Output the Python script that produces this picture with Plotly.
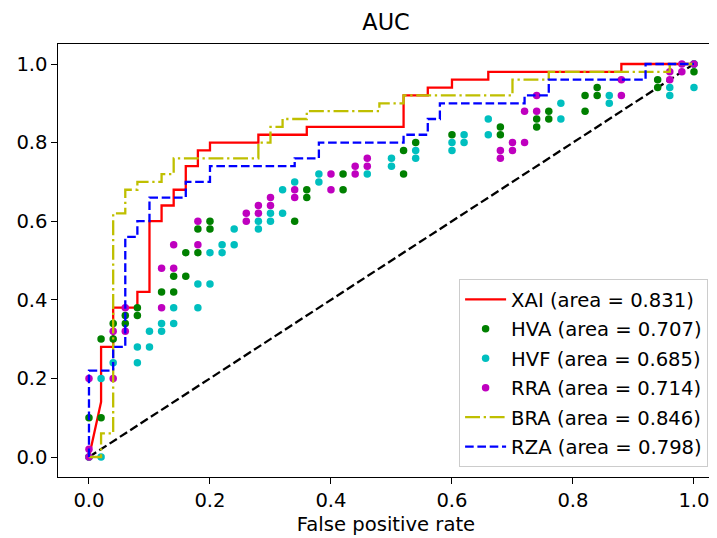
import plotly.graph_objects as go

# ROC curves (step lines)
xai_fpr = [0, 0.02, 0.02, 0.04, 0.04, 0.08, 0.08, 0.10, 0.10, 0.12, 0.12, 0.14, 0.14, 0.16, 0.16, 0.18, 0.18, 0.20, 0.20, 0.28, 0.28, 0.36, 0.36, 0.52, 0.52, 0.56, 0.56, 0.60, 0.60, 0.66, 0.66, 0.88, 0.88, 1.0]
xai_tpr = [0, 0.14, 0.28, 0.28, 0.38, 0.38, 0.42, 0.42, 0.60, 0.60, 0.64, 0.64, 0.68, 0.68, 0.74, 0.74, 0.78, 0.78, 0.80, 0.80, 0.82, 0.82, 0.84, 0.84, 0.92, 0.92, 0.94, 0.94, 0.96, 0.96, 0.98, 0.98, 1.0, 1.0]

bra_fpr = [0, 0.02, 0.02, 0.04, 0.04, 0.06, 0.06, 0.08, 0.08, 0.12, 0.12, 0.14, 0.14, 0.28, 0.28, 0.30, 0.30, 0.32, 0.32, 0.36, 0.36, 0.48, 0.48, 0.52, 0.52, 0.70, 0.70, 0.76, 0.76, 0.96, 0.96, 1.0]
bra_tpr = [0, 0, 0.06, 0.06, 0.62, 0.62, 0.68, 0.68, 0.70, 0.70, 0.72, 0.72, 0.76, 0.76, 0.80, 0.80, 0.84, 0.84, 0.86, 0.86, 0.88, 0.88, 0.90, 0.90, 0.92, 0.92, 0.96, 0.96, 0.98, 0.98, 1.0, 1.0]

rza_fpr = [0, 0, 0.04, 0.04, 0.06, 0.06, 0.08, 0.08, 0.10, 0.10, 0.16, 0.16, 0.20, 0.20, 0.34, 0.34, 0.38, 0.38, 0.52, 0.52, 0.56, 0.56, 0.58, 0.58, 0.72, 0.72, 0.76, 0.76, 0.92, 0.92, 1.0]
rza_tpr = [0, 0.22, 0.22, 0.28, 0.28, 0.56, 0.56, 0.60, 0.60, 0.66, 0.66, 0.70, 0.70, 0.74, 0.74, 0.76, 0.76, 0.80, 0.80, 0.82, 0.82, 0.86, 0.86, 0.90, 0.90, 0.92, 0.92, 0.96, 0.96, 1.0, 1.0]

# ROC points (markers only)
hva_fpr = [0, 0, 0.02, 0.02, 0.04, 0.04, 0.06, 0.06, 0.08, 0.08, 0.12, 0.14, 0.14, 0.16, 0.16, 0.18, 0.18, 0.20, 0.20, 0.34, 0.36, 0.36, 0.42, 0.42, 0.52, 0.52, 0.54, 0.60, 0.68, 0.68, 0.74, 0.74, 0.76, 0.76, 0.82, 0.82, 0.84, 0.84, 0.94, 0.94, 1.0, 1.0]
hva_tpr = [0, 0.10, 0.10, 0.30, 0.30, 0.34, 0.34, 0.36, 0.36, 0.38, 0.42, 0.42, 0.46, 0.46, 0.52, 0.52, 0.58, 0.58, 0.60, 0.60, 0.66, 0.68, 0.68, 0.72, 0.72, 0.78, 0.80, 0.82, 0.82, 0.84, 0.84, 0.86, 0.86, 0.88, 0.88, 0.92, 0.92, 0.94, 0.94, 0.96, 0.98, 1.0]

hvf_fpr = [0, 0.02, 0.02, 0.04, 0.08, 0.08, 0.10, 0.10, 0.12, 0.12, 0.14, 0.14, 0.18, 0.18, 0.20, 0.20, 0.22, 0.22, 0.24, 0.24, 0.28, 0.28, 0.30, 0.30, 0.32, 0.32, 0.34, 0.38, 0.38, 0.46, 0.50, 0.50, 0.54, 0.54, 0.60, 0.60, 0.62, 0.62, 0.66, 0.66, 0.78, 0.78, 0.86, 0.86, 0.96, 0.96, 1.0, 1.0]
hvf_tpr = [0, 0, 0.20, 0.24, 0.24, 0.28, 0.28, 0.32, 0.32, 0.34, 0.34, 0.38, 0.38, 0.44, 0.44, 0.52, 0.52, 0.54, 0.54, 0.58, 0.58, 0.60, 0.60, 0.62, 0.62, 0.68, 0.70, 0.70, 0.72, 0.72, 0.74, 0.76, 0.76, 0.78, 0.78, 0.80, 0.80, 0.82, 0.82, 0.86, 0.86, 0.90, 0.90, 0.92, 0.92, 0.94, 0.94, 1.0]

rra_fpr = [0, 0, 0, 0.04, 0.04, 0.06, 0.06, 0.12, 0.12, 0.14, 0.14, 0.18, 0.18, 0.26, 0.26, 0.28, 0.28, 0.30, 0.30, 0.34, 0.34, 0.40, 0.40, 0.44, 0.44, 0.46, 0.46, 0.68, 0.68, 0.70, 0.70, 0.72, 0.72, 0.74, 0.74, 0.88, 0.88, 0.96, 0.96, 0.98, 0.98, 1.0]
rra_tpr = [0, 0.02, 0.20, 0.20, 0.32, 0.32, 0.38, 0.38, 0.48, 0.48, 0.54, 0.54, 0.60, 0.60, 0.62, 0.62, 0.64, 0.64, 0.66, 0.66, 0.68, 0.68, 0.72, 0.72, 0.74, 0.74, 0.76, 0.76, 0.78, 0.78, 0.80, 0.80, 0.88, 0.88, 0.92, 0.92, 0.96, 0.96, 0.98, 0.98, 1.0, 1.0]

diag = [0, 1]

labels = ["XAI (area = 0.831)", "HVA (area = 0.707)", "HVF (area = 0.685)",
          "RRA (area = 0.714)", "BRA (area = 0.846)", "RZA (area = 0.798)"]
tick_vals = [0.0, 0.2, 0.4, 0.6, 0.8, 1.0]
tick_text = ["0.0", "0.2", "0.4", "0.6", "0.8", "1.0"]

FONT = "DejaVu Sans"
FS = 19.6
LW = 2.3
W, H = 709, 530  # page body adds an 8px offset

fig = go.Figure()
fig.add_trace(go.Scatter(x=diag, y=diag, mode="lines", showlegend=False,
                         line=dict(color="black", width=LW, dash="8.6px,3.7px")))
fig.add_trace(go.Scatter(x=xai_fpr, y=xai_tpr, mode="lines", name=labels[0], legendgroup="a",
                         line=dict(color="#ff0000", width=LW)))
fig.add_trace(go.Scatter(x=hva_fpr, y=hva_tpr, mode="markers", name=labels[1], legendgroup="b",
                         marker=dict(color="#008000", size=7.5)))
fig.add_trace(go.Scatter(x=hvf_fpr, y=hvf_tpr, mode="markers", name=labels[2], legendgroup="c",
                         marker=dict(color="#00bfbf", size=7.5)))
fig.add_trace(go.Scatter(x=rra_fpr, y=rra_tpr, mode="markers", name=labels[3], legendgroup="d",
                         marker=dict(color="#bf00bf", size=7.5)))
fig.add_trace(go.Scatter(x=bra_fpr, y=bra_tpr, mode="lines", name=labels[4], legendgroup="e",
                         line=dict(color="#bfbf00", width=LW, dash="14.9px,3.7px,2.3px,3.7px")))
fig.add_trace(go.Scatter(x=rza_fpr, y=rza_tpr, mode="lines", name=labels[5], legendgroup="f",
                         line=dict(color="#0000ff", width=LW, dash="8.6px,3.7px")))

axis_common = dict(showgrid=False, zeroline=False, showline=True, linecolor="black", linewidth=1.25,
                   mirror=True, ticks="outside", ticklen=5.4, tickwidth=1.25, tickcolor="black",
                   tickvals=tick_vals, ticktext=tick_text, automargin=False,
                   tickfont=dict(family=FONT, size=FS, color="black"))

fig.update_layout(
    width=W, height=H,
    margin=dict(l=50, r=3, t=36, b=61),
    paper_bgcolor="white", plot_bgcolor="white",
    title=dict(text="AUC", x=378 / W, xanchor="center", y=1 - 14 / H, yanchor="middle",
               font=dict(family=FONT, size=22.4, color="black")),
    xaxis=dict(range=[-0.0512, 1.0331], **axis_common,
               title=dict(text="False positive rate", standoff=6,
                          font=dict(family=FONT, size=FS, color="black"))),
    yaxis=dict(range=[-0.0509, 1.0509], **axis_common),
    legend=dict(x=0.991, y=0.023, xanchor="right", yanchor="bottom",
                bgcolor="rgba(255,255,255,0.8)", bordercolor="#cccccc", borderwidth=1,
                font=dict(family=FONT, size=FS, color="black"),
                itemwidth=41,
                traceorder="grouped", tracegroupgap=1),
    hovermode=False,
    showlegend=True,
)

fig.write_html("out.html")
